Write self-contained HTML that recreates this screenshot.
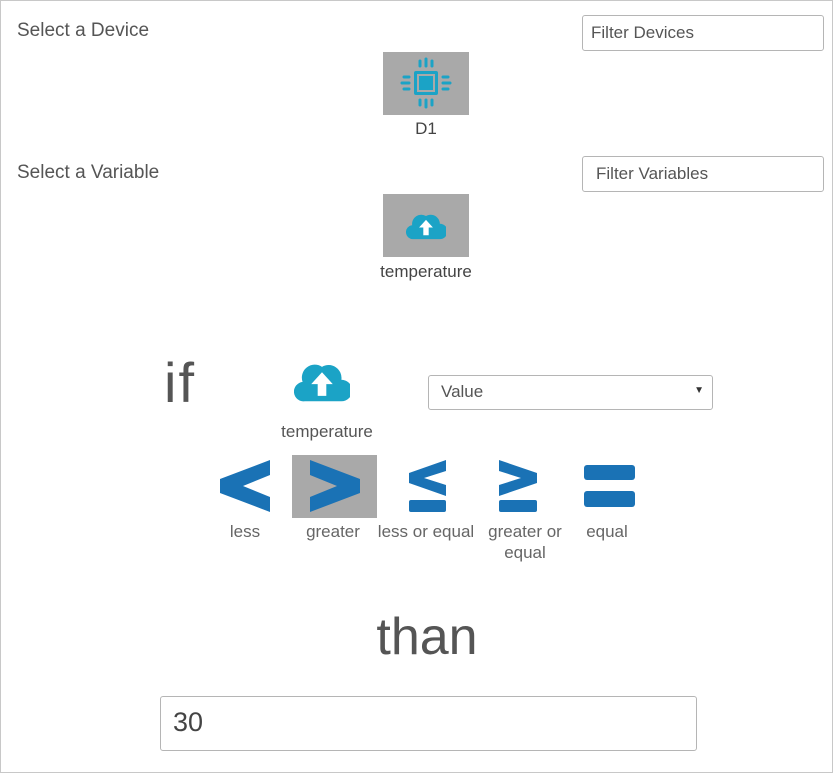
<!DOCTYPE html>
<html><head><meta charset="utf-8"><style>
body{margin:0;width:833px;height:773px;background:#fff;font-family:"Liberation Sans",sans-serif;color:#444;position:relative;overflow:hidden}
.frame{position:absolute;left:0;top:0;width:831px;height:771px;border:1px solid #c8c8c8}
.a{position:absolute;white-space:nowrap}
.inp{position:absolute;border:1px solid #b5b5b5;border-radius:3px;background:#fff;box-sizing:border-box;color:#555}
.lbl{position:absolute;font-size:17px;color:#666;text-align:center;line-height:21px}
</style></head><body>
<div class="frame"></div>
<div class="a" style="left:17px;top:20px;font-size:19px;color:#555">Select a Device</div>
<div class="inp" style="left:582px;top:15px;width:242px;height:36px;font-size:17px;padding:7px 8px">Filter Devices</div>
<div class="a" style="left:383px;top:52px;width:86px;height:63px;background:#a9a9a9"></div>
<svg class="a" style="left:400px;top:57px" width="52" height="52" viewBox="0 0 52 52">
<g fill="#1ba3c6"><rect x="14" y="14" width="24" height="24" rx="2"/></g>
<rect x="17" y="17" width="18" height="18" fill="#a9a9a9"/><rect x="19" y="19" width="14" height="14" fill="#1ba3c6"/>
<g stroke="#1ba3c6" stroke-width="3" stroke-linecap="round">
<line x1="20" y1="4" x2="20" y2="9"/><line x1="26" y1="2" x2="26" y2="9"/><line x1="32" y1="4" x2="32" y2="9"/>
<line x1="20" y1="43" x2="20" y2="48"/><line x1="26" y1="43" x2="26" y2="50"/><line x1="32" y1="43" x2="32" y2="48"/>
<line x1="4" y1="20" x2="9" y2="20"/><line x1="2" y1="26" x2="9" y2="26"/><line x1="4" y1="32" x2="9" y2="32"/>
<line x1="43" y1="20" x2="48" y2="20"/><line x1="43" y1="26" x2="50" y2="26"/><line x1="43" y1="32" x2="48" y2="32"/></g></svg>
<div class="lbl" style="left:383px;top:118px;width:86px;color:#444">D1</div>

<div class="a" style="left:17px;top:162px;font-size:19px;color:#555">Select a Variable</div>
<div class="inp" style="left:582px;top:156px;width:242px;height:36px;font-size:17px;padding:7px 13px">Filter Variables</div>
<div class="a" style="left:383px;top:194px;width:86px;height:63px;background:#a9a9a9"></div>
<svg class="a" style="left:406px;top:211px" width="40" height="30" viewBox="0 0 52 38">
<path d="M10 36 A9 9 0 0 1 8 18 A12 12 0 0 1 26 6 A12 12 0 0 1 44 16 A10 10 0 0 1 44 36 Z" fill="#1ba3c6"/>
<path d="M26 11 L35 21 L29.5 21 L29.5 31 L22.5 31 L22.5 21 L17 21 Z" fill="#fff"/></svg>
<div class="lbl" style="left:366px;top:261px;width:120px;color:#444">temperature</div>

<div class="a" style="left:164px;top:350px;font-size:56px;color:#555;font-weight:300;letter-spacing:2px">if</div>
<svg class="a" style="left:294px;top:362px" width="56" height="42" viewBox="0 0 52 38">
<path d="M10 36 A9 9 0 0 1 8 18 A12 12 0 0 1 26 4 A12 12 0 0 1 44 16 A10 10 0 0 1 44 36 Z" fill="#1ba3c6"/>
<path d="M26 9 L36 20 L30 20 L30 31 L22 31 L22 20 L16 20 Z" fill="#fff"/></svg>
<div class="lbl" style="left:262px;top:421px;width:130px;color:#555">temperature</div>
<div class="inp" style="left:428px;top:375px;width:285px;height:35px;font-size:17px;padding:6px 12px">Value<span style="position:absolute;right:8px;top:9px;font-size:10px;color:#333">▼</span></div>

<div class="a" style="left:292px;top:455px;width:85px;height:63px;background:#a9a9a9"></div>
<svg class="a" style="left:0;top:0" width="833" height="773">
<g fill="#1a72b5">
<polygon points="270,460 270,475 243,486 270,497 270,512 220,493 220,479"/>
<polygon points="310,460 310,475 337,486 310,497 310,512 360,493 360,479"/>
<polygon points="446,460 446,471 424,478 446,485 446,496 409,483 409,473"/>
<rect x="409" y="500" width="37" height="12" rx="2"/>
<polygon points="499,460 499,471 521,478 499,485 499,496 537,483 537,473"/>
<rect x="499" y="500" width="38" height="12" rx="2"/>
<rect x="584" y="465" width="51" height="15" rx="3"/>
<rect x="584" y="491" width="51" height="16" rx="3"/>
</g></svg>
<div class="lbl" style="left:205px;top:521px;width:80px">less</div>
<div class="lbl" style="left:293px;top:521px;width:80px">greater</div>
<div class="lbl" style="left:370px;top:521px;width:112px">less or equal</div>
<div class="lbl" style="left:475px;top:521px;width:100px">greater or<br>equal</div>
<div class="lbl" style="left:567px;top:521px;width:80px">equal</div>

<div class="a" style="left:327px;top:607px;width:200px;text-align:center;font-size:52px;color:#555">than</div>
<div class="inp" style="left:160px;top:696px;width:537px;height:55px;font-size:27px;padding:10px 12px;color:#444">30</div>
</body></html>
